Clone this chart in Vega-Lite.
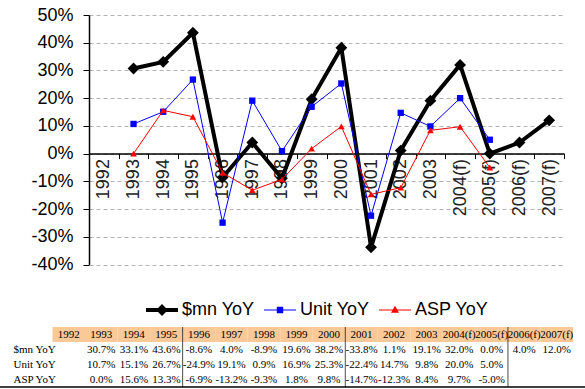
{
  "$schema": "https://vega.github.io/schema/vega-lite/v6.json",
  "width": 585,
  "height": 389,
  "padding": 0,
  "autosize": {"type": "none"},
  "background": "white",
  "config": {
    "view": {"stroke": null},
    "font": "Liberation Sans",
    "locale": {"number": {"decimal": ".", "thousands": ",", "grouping": [3], "currency": ["$", ""], "minus": "-"}}
  },
  "datasets": {
    "yoy": [
      {"year": "1993", "series": "$mn YoY", "value": 0.307},
      {"year": "1994", "series": "$mn YoY", "value": 0.331},
      {"year": "1995", "series": "$mn YoY", "value": 0.436},
      {"year": "1996", "series": "$mn YoY", "value": -0.086},
      {"year": "1997", "series": "$mn YoY", "value": 0.04},
      {"year": "1998", "series": "$mn YoY", "value": -0.089},
      {"year": "1999", "series": "$mn YoY", "value": 0.196},
      {"year": "2000", "series": "$mn YoY", "value": 0.382},
      {"year": "2001", "series": "$mn YoY", "value": -0.338},
      {"year": "2002", "series": "$mn YoY", "value": 0.011},
      {"year": "2003", "series": "$mn YoY", "value": 0.191},
      {"year": "2004(f)", "series": "$mn YoY", "value": 0.32},
      {"year": "2005(f)", "series": "$mn YoY", "value": 0.0},
      {"year": "2006(f)", "series": "$mn YoY", "value": 0.04},
      {"year": "2007(f)", "series": "$mn YoY", "value": 0.12},
      {"year": "1993", "series": "Unit YoY", "value": 0.107},
      {"year": "1994", "series": "Unit YoY", "value": 0.151},
      {"year": "1995", "series": "Unit YoY", "value": 0.267},
      {"year": "1996", "series": "Unit YoY", "value": -0.249},
      {"year": "1997", "series": "Unit YoY", "value": 0.191},
      {"year": "1998", "series": "Unit YoY", "value": 0.009},
      {"year": "1999", "series": "Unit YoY", "value": 0.169},
      {"year": "2000", "series": "Unit YoY", "value": 0.253},
      {"year": "2001", "series": "Unit YoY", "value": -0.224},
      {"year": "2002", "series": "Unit YoY", "value": 0.147},
      {"year": "2003", "series": "Unit YoY", "value": 0.098},
      {"year": "2004(f)", "series": "Unit YoY", "value": 0.2},
      {"year": "2005(f)", "series": "Unit YoY", "value": 0.05},
      {"year": "1993", "series": "ASP YoY", "value": 0.0},
      {"year": "1994", "series": "ASP YoY", "value": 0.156},
      {"year": "1995", "series": "ASP YoY", "value": 0.133},
      {"year": "1996", "series": "ASP YoY", "value": -0.069},
      {"year": "1997", "series": "ASP YoY", "value": -0.132},
      {"year": "1998", "series": "ASP YoY", "value": -0.093},
      {"year": "1999", "series": "ASP YoY", "value": 0.018},
      {"year": "2000", "series": "ASP YoY", "value": 0.098},
      {"year": "2001", "series": "ASP YoY", "value": -0.147},
      {"year": "2002", "series": "ASP YoY", "value": -0.123},
      {"year": "2003", "series": "ASP YoY", "value": 0.084},
      {"year": "2004(f)", "series": "ASP YoY", "value": 0.097},
      {"year": "2005(f)", "series": "ASP YoY", "value": -0.05}
    ],
    "years": [
      {"year": "1992"}, {"year": "1993"}, {"year": "1994"}, {"year": "1995"},
      {"year": "1996"}, {"year": "1997"}, {"year": "1998"}, {"year": "1999"},
      {"year": "2000"}, {"year": "2001"}, {"year": "2002"}, {"year": "2003"},
      {"year": "2004(f)"}, {"year": "2005(f)"}, {"year": "2006(f)"}, {"year": "2007(f)"}
    ],
    "seps": [
      {"year": "1996", "row": "header"}, {"year": "1996", "row": "$mn YoY"}, {"year": "1996", "row": "Unit YoY"}, {"year": "1996", "row": "ASP YoY"},
      {"year": "2001", "row": "header"}, {"year": "2001", "row": "$mn YoY"}, {"year": "2001", "row": "Unit YoY"}, {"year": "2001", "row": "ASP YoY"},
      {"year": "2006(f)", "row": "header"}, {"year": "2006(f)", "row": "$mn YoY"}, {"year": "2006(f)", "row": "Unit YoY"}, {"year": "2006(f)", "row": "ASP YoY"}
    ]
  },
  "layer": [
    {
      "data": {"name": "yoy"},
      "encoding": {
        "x": {
          "field": "year", "type": "nominal", "bandPosition": 0.5,
          "scale": {"type": "band", "domain": ["1992","1993","1994","1995","1996","1997","1998","1999","2000","2001","2002","2003","2004(f)","2005(f)","2006(f)","2007(f)"], "range": [89, 564], "paddingInner": 0, "paddingOuter": 0},
          "axis": {"orient": "bottom", "offset": -235.4, "tickBand": "extent", "labelAngle": -90, "labelFontSize": 18, "labelFont": "Liberation Sans", "labelColor": "#222222", "labelPadding": 0, "tickSize": 5, "tickColor": "black", "domainColor": "black", "domainWidth": 1.5, "title": null, "grid": false, "labelAlign": "right", "labelBaseline": "middle"}
        },
        "y": {
          "field": "value", "type": "quantitative",
          "scale": {"domain": [-0.4, 0.5], "range": [264.5, 15], "nice": false, "zero": false},
          "axis": {"orient": "left", "offset": -89, "values": [-0.4,-0.3,-0.2,-0.1,0,0.1,0.2,0.3,0.4,0.5], "format": ".0%", "labelFontSize": 18, "labelFont": "Liberation Sans", "labelColor": "black", "tickSize": 6, "labelPadding": 10, "tickColor": "black", "domainColor": "black", "domainWidth": 1.5, "grid": true, "gridDash": [4, 3], "gridColor": "#b4b4b4", "title": null}
        }
      },
      "layer": [
        {
          "transform": [{"filter": "datum.series === '$mn YoY'"}],
          "mark": {"type": "line", "color": "black", "strokeWidth": 4, "point": {"shape": "diamond", "size": 140, "filled": true, "color": "black", "opacity": 1}}
        },
        {
          "transform": [{"filter": "datum.series === 'Unit YoY'"}],
          "mark": {"type": "line", "color": "#0000FF", "strokeWidth": 1, "point": {"shape": "square", "size": 40, "filled": true, "color": "#0000FF", "opacity": 1}}
        },
        {
          "transform": [{"filter": "datum.series === 'ASP YoY'"}],
          "mark": {"type": "line", "color": "#FF0000", "strokeWidth": 1, "point": {"shape": "triangle-up", "size": 45, "filled": true, "color": "#FF0000", "opacity": 1}}
        },
        {
          "transform": [{"filter": "false"}],
          "mark": {"type": "point", "filled": true, "opacity": 1},
          "encoding": {
            "color": {"field": "series", "type": "nominal", "scale": {"domain": ["$mn YoY", "Unit YoY", "ASP YoY"], "range": ["#000000", "#0000FF", "#FF0000"]},
              "legend": {"orient": "none", "legendX": 146, "legendY": 294, "direction": "horizontal", "title": null, "labelFontSize": 18, "labelFont": "Liberation Sans", "labelColor": "black", "symbolSize": 1024, "symbolStrokeWidth": 0, "symbolOpacity": 1, "columnPadding": 9, "labelOffset": 4}},
            "shape": {"field": "series", "type": "nominal", "scale": {"domain": ["$mn YoY", "Unit YoY", "ASP YoY"], "range": [
              "M-1,-0.125L1,-0.125L1,0.125L-1,0.125Z M0,-0.37L0.37,0L0,0.37L-0.37,0Z",
              "M-1,-0.035L1,-0.035L1,0.035L-1,0.035Z M-0.2,-0.2L0.2,-0.2L0.2,0.2L-0.2,0.2Z",
              "M-1,-0.035L1,-0.035L1,0.035L-1,0.035Z M0,-0.27L0.25,0.17L-0.25,0.17Z"
            ]}}
          }
        }
      ]
    },
    {
      "layer": [
        {
          "data": {"name": "years"},
          "mark": {"type": "rect", "color": "#FBC898"},
          "encoding": {
            "x": {"field": "year", "type": "nominal", "axis": null,
              "scale": {"type": "band", "domain": ["1992","1993","1994","1995","1996","1997","1998","1999","2000","2001","2002","2003","2004(f)","2005(f)","2006(f)","2007(f)"], "range": [52.5, 573], "paddingInner": 0, "paddingOuter": 0}},
            "y": {"datum": "header", "type": "nominal", "scale": {"type": "band", "domain": ["header", "$mn YoY", "Unit YoY", "ASP YoY"], "range": [327, 387], "paddingInner": 0, "paddingOuter": 0}}
          }
        },
        {
          "data": {"name": "years"},
          "mark": {"type": "text", "font": "Liberation Serif", "fontSize": 11, "color": "black"},
          "encoding": {"x": {"field": "year", "type": "nominal"}, "y": {"datum": "header", "type": "nominal"}, "text": {"field": "year"}}
        },
        {
          "data": {"name": "yoy"},
          "mark": {"type": "text", "font": "Liberation Serif", "fontSize": 11, "color": "black"},
          "encoding": {
            "x": {"field": "year", "type": "nominal"},
            "y": {"field": "series", "type": "nominal",
              "axis": {"orient": "right", "offset": -572, "labelAlign": "left", "labelPadding": 0, "ticks": false, "tickSize": 0, "domain": false, "grid": false, "title": null, "labelFont": "Liberation Serif", "labelFontSize": 11, "labelColor": "black", "labelExpr": "datum.value === 'header' ? '' : datum.value"}},
            "text": {"field": "value", "type": "quantitative", "format": ".1%"}
          }
        },
        {
          "data": {"name": "seps"},
          "mark": {"type": "tick", "orient": "vertical", "thickness": 1, "size": 15, "color": "black"},
          "encoding": {"x": {"field": "year", "type": "nominal", "bandPosition": 0}, "y": {"field": "row", "type": "nominal"}}
        },
        {
          "data": {"values": [{}]},
          "mark": {"type": "rule", "color": "black", "strokeWidth": 1.5},
          "encoding": {"y": {"datum": "ASP YoY", "type": "nominal", "bandPosition": 1}}
        }
      ]
    }
  ],
  "resolve": {"scale": {"x": "independent", "y": "independent"}, "axis": {"x": "independent", "y": "independent"}}
}
